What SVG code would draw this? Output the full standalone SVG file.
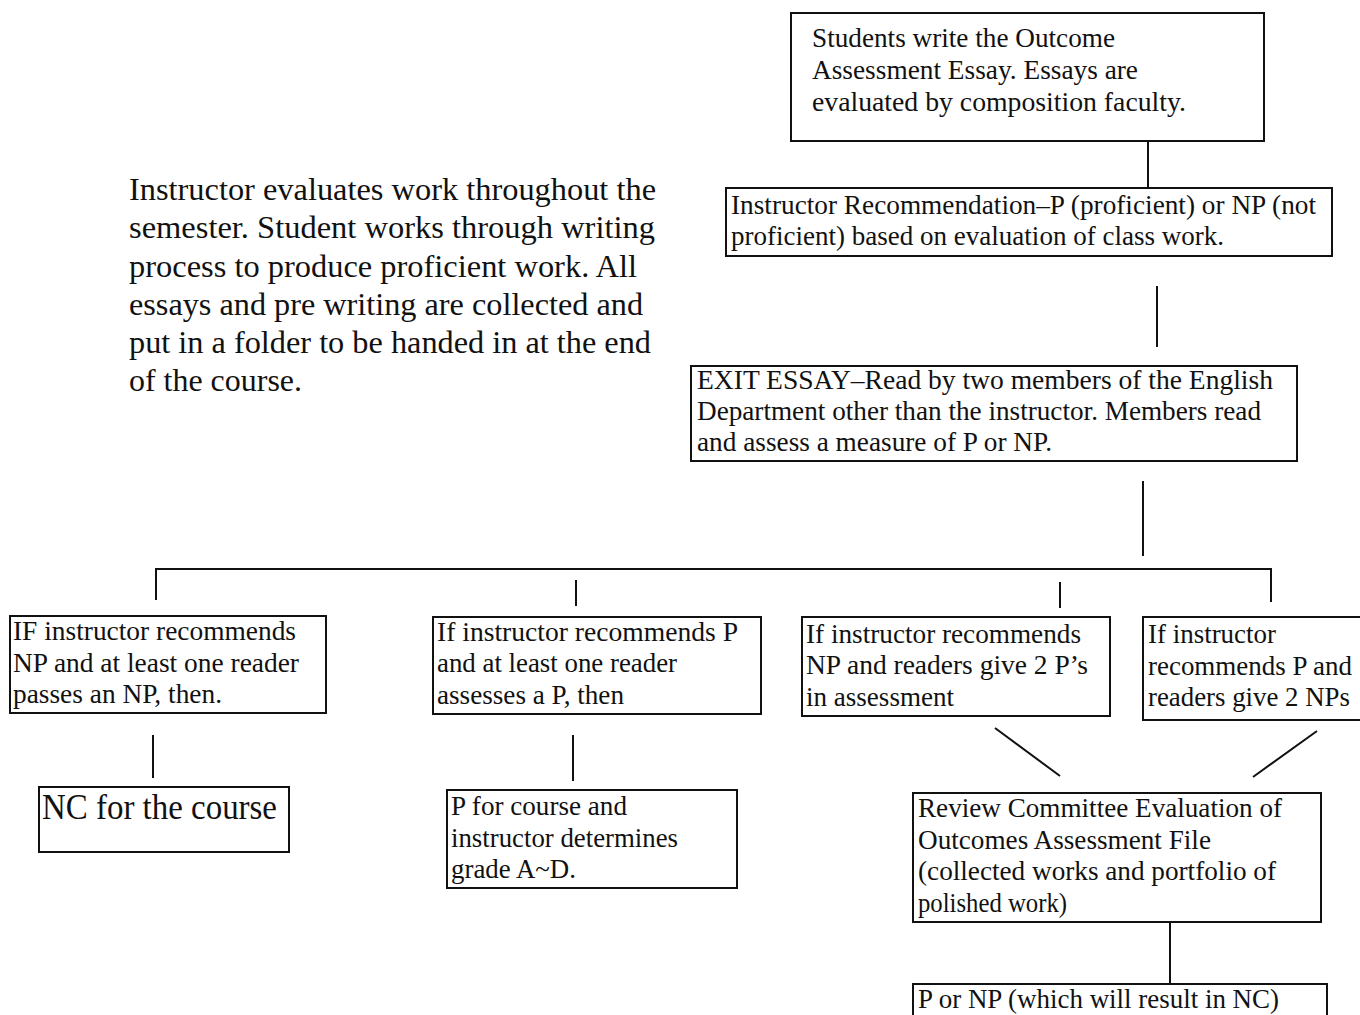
<svg xmlns="http://www.w3.org/2000/svg" width="1360" height="1015" viewBox="0 0 1360 1015">
<style>
text{font-family:'Liberation Serif','Times New Roman',Times,serif;fill:#111;}
.t{font-size:27px;}
.c{font-size:28px;}
.p{font-size:32px;}
.big{font-size:35px;}
rect{fill:#fff;stroke:#111;stroke-width:2;}
.conn line{stroke:#111;stroke-width:2;}
</style>
<rect x="0" y="0" width="1360" height="1015" style="fill:#fff;stroke:none"/>
<g id="intro">
<text class="p" x="129" y="200" textLength="527" lengthAdjust="spacingAndGlyphs">Instructor evaluates work throughout the</text>
<text class="p" x="129" y="238" textLength="526" lengthAdjust="spacingAndGlyphs">semester. Student works through writing</text>
<text class="p" x="129" y="277" textLength="508" lengthAdjust="spacingAndGlyphs">process to produce proficient work. All</text>
<text class="p" x="129" y="315" textLength="514" lengthAdjust="spacingAndGlyphs">essays and pre writing are collected and</text>
<text class="p" x="129" y="353" textLength="522" lengthAdjust="spacingAndGlyphs">put in a folder to be handed in at the end</text>
<text class="p" x="129" y="391" textLength="173" lengthAdjust="spacingAndGlyphs">of the course.</text>
</g>
<g class="conn">
<line x1="1148" y1="141" x2="1148" y2="188"/>
<line x1="1157" y1="286" x2="1157" y2="347"/>
<line x1="1143" y1="481" x2="1143" y2="556"/>
<polyline points="156,600 156,569 1271,569 1271,602" style="fill:none;stroke:#111;stroke-width:2"/>
<line x1="576" y1="580" x2="576" y2="606"/>
<line x1="1060" y1="582" x2="1060" y2="608"/>
<line x1="153" y1="735" x2="153" y2="778"/>
<line x1="573" y1="735" x2="573" y2="781"/>
<line x1="995" y1="728" x2="1060" y2="776"/>
<line x1="1317" y1="731" x2="1253" y2="777"/>
<line x1="1170" y1="922" x2="1170" y2="984"/>
</g>
<g id="students-write">
<rect x="791" y="13" width="473" height="128"/>
<text class="t" x="812" y="47" textLength="303" lengthAdjust="spacingAndGlyphs">Students write the Outcome</text>
<text class="t" x="812" y="79" textLength="326" lengthAdjust="spacingAndGlyphs">Assessment Essay. Essays are</text>
<text class="t" x="812" y="111" textLength="374" lengthAdjust="spacingAndGlyphs">evaluated  by composition faculty.</text>
</g>
<g id="instructor-rec">
<rect x="726" y="188" width="606" height="68"/>
<text class="t" x="731" y="214" textLength="585" lengthAdjust="spacingAndGlyphs">Instructor Recommendation–P (proficient) or NP (not</text>
<text class="t" x="731" y="245" textLength="493" lengthAdjust="spacingAndGlyphs">proficient) based on evaluation of class work.</text>
</g>
<g id="exit-essay">
<rect x="691" y="366" width="606" height="95"/>
<text class="c" x="697" y="389" textLength="576" lengthAdjust="spacingAndGlyphs">EXIT ESSAY–Read by two members of  the English</text>
<text class="c" x="697" y="420" textLength="564" lengthAdjust="spacingAndGlyphs">Department other than the instructor. Members read</text>
<text class="c" x="697" y="451" textLength="355" lengthAdjust="spacingAndGlyphs">and assess a measure of P or NP.</text>
</g>
<g id="case1">
<rect x="10" y="616" width="316" height="97"/>
<text class="c" x="13" y="640" textLength="283" lengthAdjust="spacingAndGlyphs">IF instructor recommends</text>
<text class="c" x="13" y="672" textLength="286" lengthAdjust="spacingAndGlyphs">NP and at least one reader</text>
<text class="c" x="13" y="703" textLength="209" lengthAdjust="spacingAndGlyphs">passes an NP, then.</text>
</g>
<g id="case2">
<rect x="433" y="617" width="328" height="97"/>
<text class="c" x="437" y="641" textLength="301" lengthAdjust="spacingAndGlyphs">If instructor  recommends P</text>
<text class="c" x="437" y="672" textLength="240" lengthAdjust="spacingAndGlyphs">and at least one reader</text>
<text class="c" x="437" y="704" textLength="187" lengthAdjust="spacingAndGlyphs">assesses a P, then</text>
</g>
<g id="case3">
<rect x="802" y="617" width="308" height="99"/>
<text class="t" x="806" y="643" textLength="275" lengthAdjust="spacingAndGlyphs">If instructor recommends</text>
<text class="t" x="806" y="674" textLength="282" lengthAdjust="spacingAndGlyphs">NP and readers give 2 P’s</text>
<text class="t" x="806" y="706" textLength="148" lengthAdjust="spacingAndGlyphs">in assessment</text>
</g>
<g id="case4">
<rect x="1143" y="617" width="225" height="103"/>
<text class="t" x="1148" y="643" textLength="128" lengthAdjust="spacingAndGlyphs">If instructor</text>
<text class="t" x="1148" y="675" textLength="204" lengthAdjust="spacingAndGlyphs">recommends P and</text>
<text class="t" x="1148" y="706" textLength="202" lengthAdjust="spacingAndGlyphs">readers give 2 NPs</text>
</g>
<g id="nc-course">
<rect x="39" y="787" width="250" height="65"/>
<text class="big" x="42" y="819" textLength="235" lengthAdjust="spacingAndGlyphs">NC for the course</text>
</g>
<g id="p-course">
<rect x="447" y="790" width="290" height="98"/>
<text class="c" x="451" y="815" textLength="176" lengthAdjust="spacingAndGlyphs">P for course and</text>
<text class="c" x="451" y="847" textLength="227" lengthAdjust="spacingAndGlyphs">instructor determines</text>
<text class="c" x="451" y="878" textLength="125" lengthAdjust="spacingAndGlyphs">grade A~D.</text>
</g>
<g id="review">
<rect x="913" y="793" width="408" height="129"/>
<text class="t" x="918" y="817" textLength="364" lengthAdjust="spacingAndGlyphs">Review Committee Evaluation of</text>
<text class="t" x="918" y="849" textLength="293" lengthAdjust="spacingAndGlyphs">Outcomes Assessment File</text>
<text class="t" x="918" y="880" textLength="358" lengthAdjust="spacingAndGlyphs">(collected works and portfolio of</text>
<text class="t" x="918" y="912" textLength="149" lengthAdjust="spacingAndGlyphs">polished work)</text>
</g>
<g id="result">
<rect x="913" y="984" width="414" height="45"/>
<text class="t" x="918" y="1008" textLength="361" lengthAdjust="spacingAndGlyphs">P or NP (which will result in NC)</text>
</g>
</svg>
